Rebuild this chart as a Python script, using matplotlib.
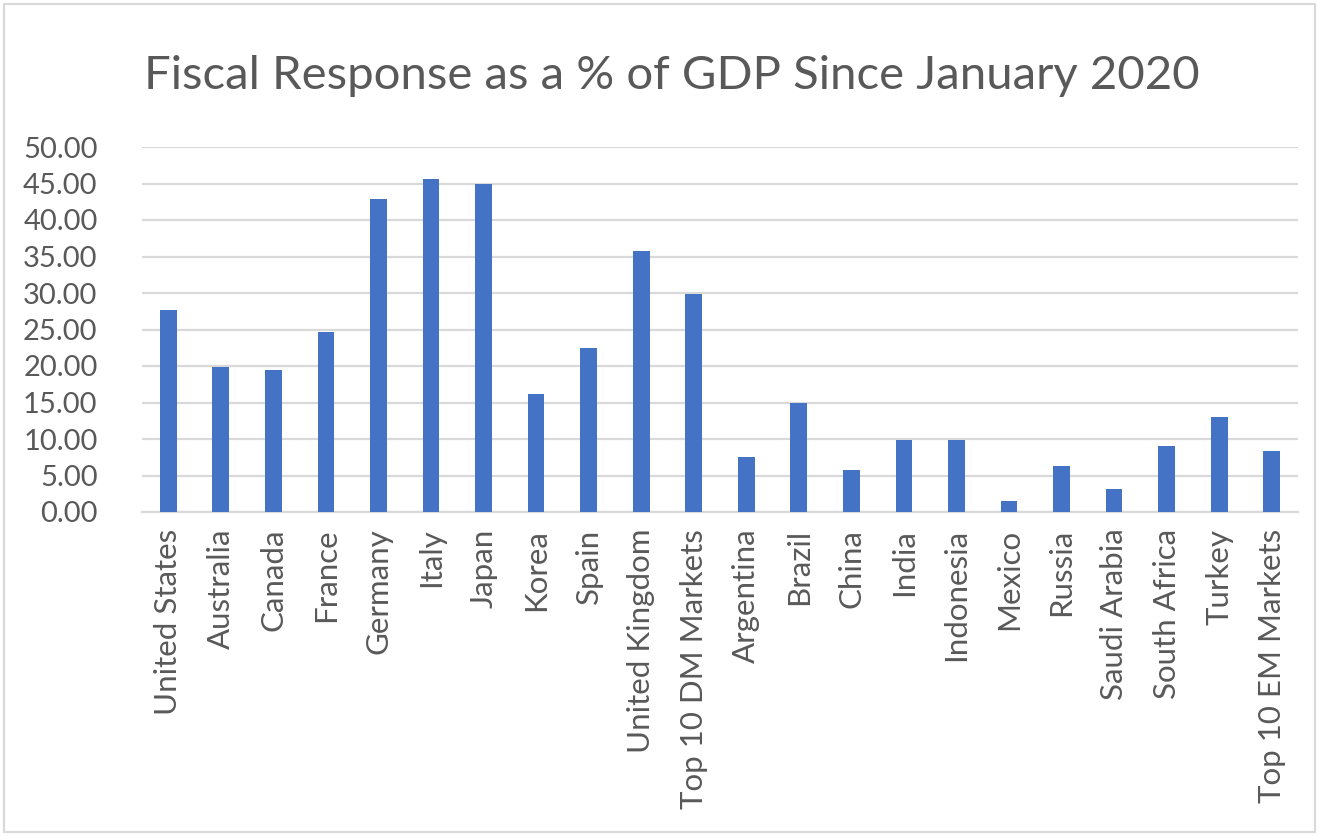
import matplotlib.pyplot as plt
from matplotlib.patches import Rectangle

countries = ["United States", "Australia", "Canada", "France", "Germany", "Italy",
             "Japan", "Korea", "Spain", "United Kingdom", "Top 10 DM Markets",
             "Argentina", "Brazil", "China", "India", "Indonesia", "Mexico",
             "Russia", "Saudi Arabia", "South Africa", "Turkey", "Top 10 EM Markets"]
fiscal_pct = [27.7, 19.9, 19.5, 24.7, 42.9, 45.6,
              44.9, 16.1, 22.5, 35.7, 29.8,
              7.5, 15.0, 5.8, 9.9, 9.9, 1.5,
              6.3, 3.1, 9.1, 13.0, 8.3]
y_ticks = [0, 5, 10, 15, 20, 25, 30, 35, 40, 45, 50]

plt.rcParams["font.family"] = ["Lato", "DejaVu Sans"]
text_col = "#595959"

fig = plt.figure(figsize=(13.19, 8.36), dpi=100)
ax = fig.add_axes([142 / 1319, 1 - 512 / 836, 1156 / 1319, 365 / 836])

x = list(range(len(countries)))
ax.bar(x, fiscal_pct, width=0.32, color="#4472C4", zorder=3)

ax.set_xlim(-0.5, len(countries) - 0.5)
ax.set_ylim(0, 50)
ax.set_yticks(y_ticks)
ax.set_yticklabels([f"{v:.2f}" for v in y_ticks], fontsize=21, color=text_col)
ax.set_xticks(x)
ax.set_xticklabels(countries, rotation=90, fontsize=22.5, color=text_col)
ax.tick_params(axis="y", length=0, pad=32)
ax.tick_params(axis="x", length=0, pad=12)
ax.grid(axis="y", color="#d9d9d9", linewidth=1.6, zorder=0)
for s in ["top", "right", "left"]:
    ax.spines[s].set_visible(False)
ax.spines["bottom"].set_color("#d9d9d9")
ax.spines["bottom"].set_linewidth(1.6)

fig.text(0.509, 1 - 76 / 836, "Fiscal Response as a % of GDP Since January 2020",
         ha="center", va="center", fontsize=34, color=text_col)

# light frame around the chart
fig.patches.append(Rectangle((4 / 1319, 4 / 836), 1 - 8 / 1319, 1 - 8 / 836,
                             transform=fig.transFigure, fill=False,
                             edgecolor="#d9d9d9", linewidth=1.5))

fig.savefig("out.png", dpi=100)
